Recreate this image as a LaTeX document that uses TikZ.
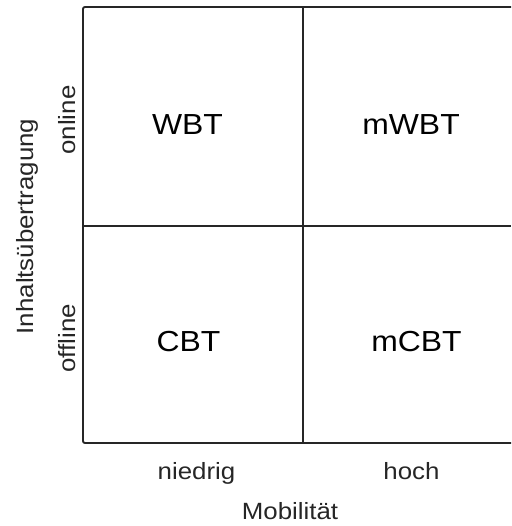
\documentclass[tikz,border=0pt]{standalone}
\usepackage{fontspec}
\newfontfamily\labelfont{Liberation Sans}[FakeStretch=1.1]
\begin{document}
\begin{tikzpicture}[x=1pt,y=1pt,
  gridline/.style={draw=black!85, line width=1.9pt},
  axislabel/.style={font=\labelfont\fontsize{23.5}{26}\selectfont, text=black!85, anchor=base, inner sep=0pt},
  celllabel/.style={font=\labelfont\fontsize{29}{32}\selectfont, text=black, anchor=base, inner sep=0pt}]
  \useasboundingbox (0,0) rectangle (511,526);
  % grid corners and dividers
  \coordinate (tl) at (83,519);
  \coordinate (bl) at (83,83);
  \coordinate (tr) at (511,519);
  \coordinate (br) at (511,83);
  \coordinate (ml) at (83,300);
  \coordinate (mr) at (511,300);
  \coordinate (mt) at (303,519);
  \coordinate (mb) at (303,83);
  % open frame: top, left and bottom edges
  \draw[gridline, rounded corners=2pt] (tr) -- (tl) -- (bl) -- (br);
  \draw[gridline] (ml) -- (mr);
  \draw[gridline] (mt) -- (mb);
  % quadrant labels
  \node[celllabel] (wbt)  at (187.5,391) {WBT};
  \node[celllabel] (mwbt) at (411,391) {mWBT};
  \node[celllabel] (cbt)  at (188.5,174) {CBT};
  \node[celllabel] (mcbt) at (416.5,174) {mCBT};
  % horizontal axis
  \node[axislabel] (low)  at (196.5,46) {niedrig};
  \node[axislabel] (high) at (411.5,46) {hoch};
  \node[axislabel] (mob)  at (290,6) {Mobilität};
  % vertical axis
  \node[axislabel, rotate=90] (on)  at (75,406) {online};
  \node[axislabel, rotate=90] (off) at (75,187.5) {offline};
  \node[axislabel, rotate=90] (ctx) at (33,299.5) {Inhaltsübertragung};
\end{tikzpicture}
\end{document}
